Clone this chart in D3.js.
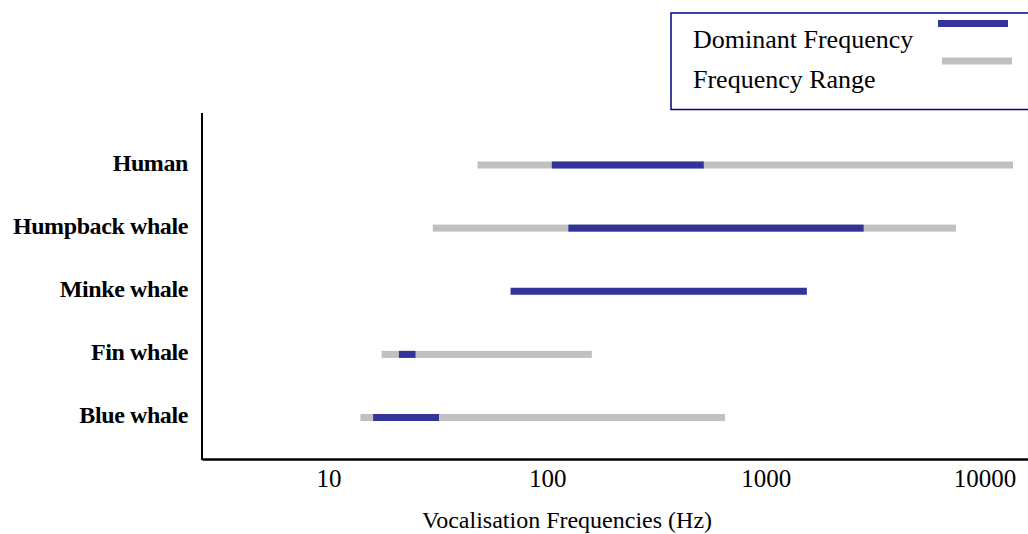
<!DOCTYPE html>
<html>
<head>
<meta charset="utf-8">
<script src="https://cdn.jsdelivr.net/npm/d3@7"></script>
<style>
  body { margin: 0; background: #fff; }
  svg { display: block; font-family: "Liberation Serif", "Times New Roman", serif; }
</style>
</head>
<body>
<div id="chart"></div>
<script>
// species, top to bottom
const species = ["Human", "Humpback whale", "Minke whale", "Fin whale", "Blue whale"];
// full vocal range (Hz), null where none is shown
const rangeLow = [48, 30, null, 17.5, 14];
const rangeHigh = [13500, 7400, null, 160, 650];
// dominant frequency band (Hz)
const domLow = [105, 125, 68, 21, 16];
const domHigh = [520, 2800, 1540, 25, 32];
const tickValues = [10, 100, 1000, 10000];

const width = 1028;
const height = 534;
const blue = "#333399";
const grey = "#c0c0c0";

const svg = d3
  .select("#chart")
  .append("svg")
  .attr("width", width)
  .attr("height", height);

// log scale, axis runs from the y-axis line to the right edge
const x = d3.scaleLog().domain([2.64, 15800]).range([202, 1028]);
const y = d3.scalePoint().domain(species).range([162.5, 415]);

const rows = species.map((name, i) => ({
  name,
  rLo: rangeLow[i],
  rHi: rangeHigh[i],
  dLo: domLow[i],
  dHi: domHigh[i],
}));

// frequency range bars
svg
  .append("g")
  .selectAll("rect")
  .data(rows.filter((d) => d.rLo != null))
  .enter()
  .append("rect")
  .attr("x", (d) => x(d.rLo))
  .attr("y", (d) => y(d.name) - 1)
  .attr("width", (d) => x(d.rHi) - x(d.rLo))
  .attr("height", 7)
  .attr("fill", grey);

// dominant frequency bars
svg
  .append("g")
  .selectAll("rect")
  .data(rows)
  .enter()
  .append("rect")
  .attr("x", (d) => x(d.dLo))
  .attr("y", (d) => y(d.name) - 1)
  .attr("width", (d) => x(d.dHi) - x(d.dLo))
  .attr("height", 7)
  .attr("fill", blue);

// category labels
svg
  .append("g")
  .selectAll("text")
  .data(species)
  .enter()
  .append("text")
  .attr("x", 188)
  .attr("y", (d) => y(d) + 8)
  .attr("text-anchor", "end")
  .attr("font-size", 24)
  .attr("font-weight", "bold")
  .attr("letter-spacing", -0.4)
  .text((d) => d);

// y axis line
svg
  .append("line")
  .attr("x1", 202)
  .attr("x2", 202)
  .attr("y1", 113)
  .attr("y2", 460)
  .attr("stroke", "#000")
  .attr("stroke-width", 2);

// x axis
const xAxis = d3
  .axisBottom(x)
  .tickValues(tickValues)
  .tickSize(0)
  .tickPadding(10)
  .tickFormat(d3.format("d"));

const gx = svg.append("g").attr("transform", "translate(0,459)").call(xAxis);
gx.select(".domain").attr("stroke", "#000").attr("stroke-width", 2.5);
gx.selectAll("text")
  .attr("font-family", "Liberation Serif, Times New Roman, serif")
  .attr("font-size", 25)
  .attr("fill", "#000")
  .attr("dy", "0.72em");

svg
  .append("text")
  .attr("x", 567)
  .attr("y", 528)
  .attr("text-anchor", "middle")
  .attr("font-size", 24)
  .text("Vocalisation Frequencies (Hz)");

// legend
const legend = svg.append("g").attr("id", "legend");
legend
  .append("rect")
  .attr("x", 671)
  .attr("y", 13)
  .attr("width", 380)
  .attr("height", 96.5)
  .attr("fill", "none")
  .attr("stroke", "#000080")
  .attr("stroke-width", 1.5);

const legendItems = [
  { label: "Dominant Frequency", color: blue, ty: 48, sx: 938, sy: 20 },
  { label: "Frequency Range", color: grey, ty: 88, sx: 942, sy: 57.5 },
];

legend
  .selectAll("text")
  .data(legendItems)
  .enter()
  .append("text")
  .attr("x", 693)
  .attr("y", (d) => d.ty)
  .attr("font-size", 26)
  .text((d) => d.label);

legend
  .selectAll(".swatch")
  .data(legendItems)
  .enter()
  .append("rect")
  .attr("class", "swatch")
  .attr("x", (d) => d.sx)
  .attr("y", (d) => d.sy)
  .attr("width", 70)
  .attr("height", 7)
  .attr("fill", (d) => d.color);
</script>
</body>
</html>
